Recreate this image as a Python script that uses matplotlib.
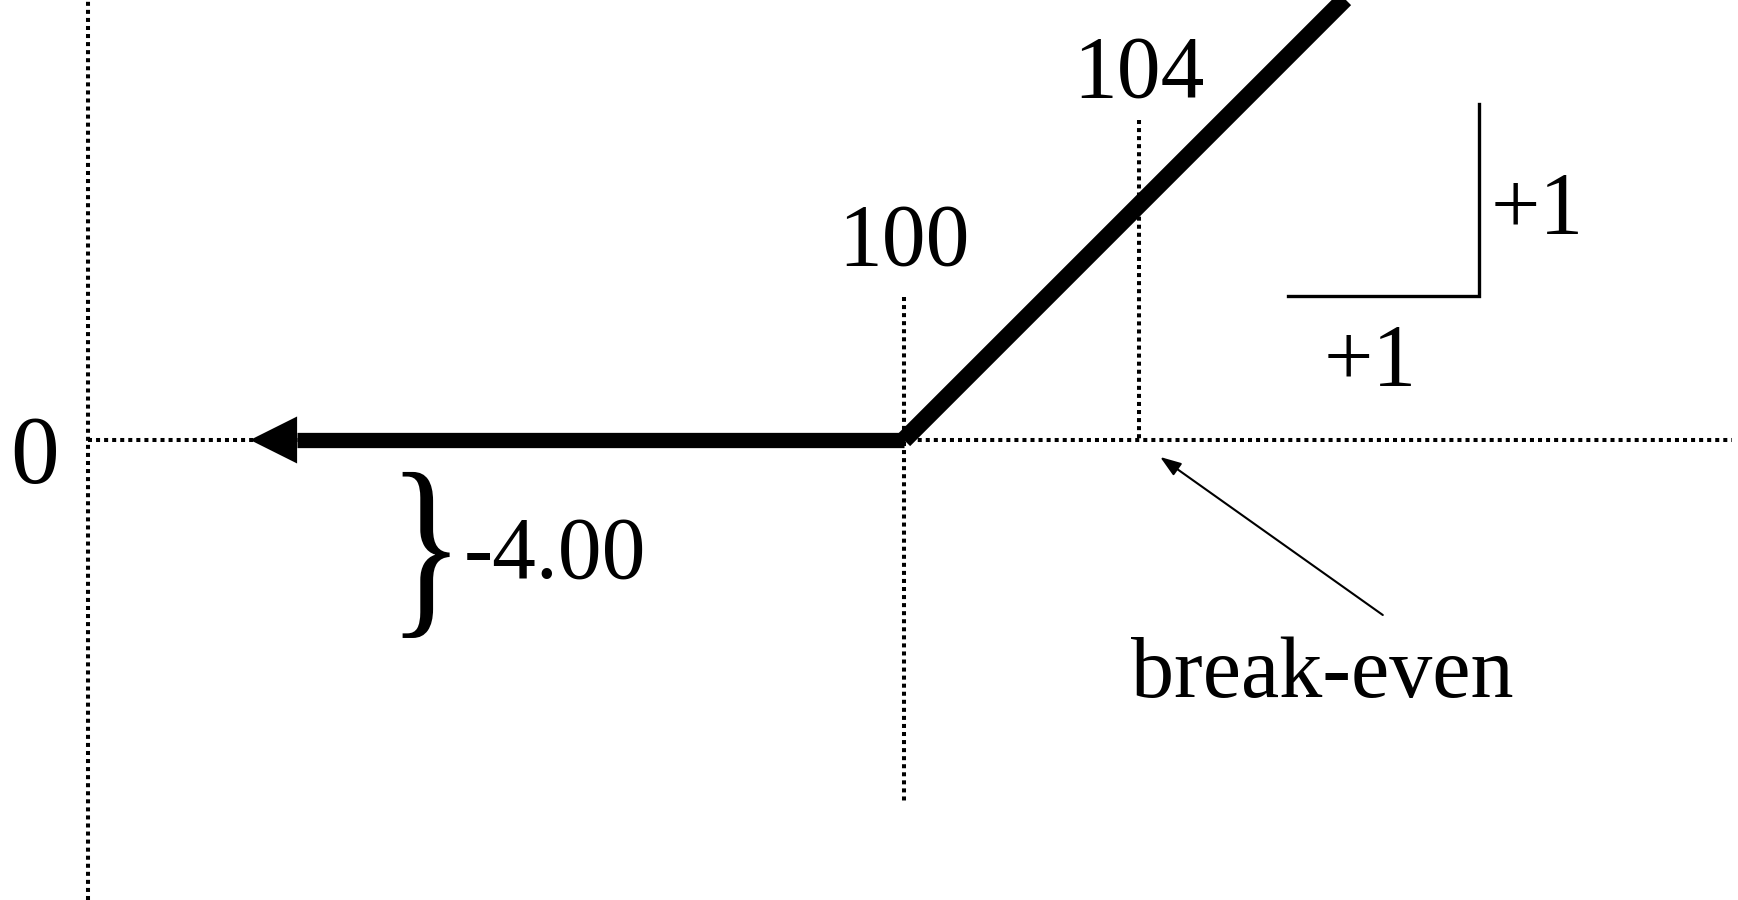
import matplotlib
matplotlib.use("Agg")
import matplotlib.pyplot as plt
from matplotlib.textpath import TextPath
from matplotlib.patches import PathPatch
from matplotlib.font_manager import FontProperties
from matplotlib.transforms import Affine2D

# ---- data (price units / payoff units) ----
strike = 100
breakeven = 104
premium = 4.00
payoff_x = [88.87, 100, 108.0]      # left arrow tip, kink at strike, upper end (clipped)
payoff_y = [0.0, 0.0, 8.0]
axis_x = 86.11                      # vertical (payoff) axis position
zero_line_end = 114.09
strike_guide = [2.434, -6.162]      # vertical extent of guide at strike
be_guide = [5.447, 0.0]             # vertical extent of guide at break-even
slope_run = [106.54, 109.79]        # slope triangle horizontal leg
slope_rise = [2.451, 5.719]         # slope triangle vertical leg
labels_strike = ["100", "104"]
premium_label = "-4.00"
be_label = "break-even"

plt.rcParams['font.family'] = ['Liberation Serif', 'DejaVu Serif']

fig = plt.figure(figsize=(17.38, 9.0), dpi=100)
ax = fig.add_axes([0, 0, 1, 1])
ax.set_xlim(84.613, 114.196)
ax.set_ylim(-7.830, 7.489)
ax.axis('off')

dot = dict(color='black', lw=2.9, linestyle=(0, (1, 1)), zorder=1)
# axes (dotted)
ax.plot([axis_x, axis_x], [-7.830, 7.489], **dot)
ax.plot([axis_x, zero_line_end], [0, 0], **dot)
# guide lines
ax.plot([strike, strike], strike_guide, **dot)
ax.plot([breakeven, breakeven], be_guide, **dot)

# payoff line with arrow head on the left
head_len = 0.80
head_w = 0.80
ax.plot([payoff_x[0] + head_len, payoff_x[1]], payoff_y[:2], color='black',
        lw=11, solid_capstyle='butt', zorder=3)
ax.plot(payoff_x[1:], payoff_y[1:], color='black',
        lw=12.5, solid_capstyle='butt', zorder=3)
ax.arrow(payoff_x[0] + head_len, payoff_y[0], -head_len, 0, width=0.0,
         head_width=head_w, head_length=head_len, length_includes_head=True,
         color='black', lw=0, zorder=4)

# slope triangle
ax.plot([slope_run[0], slope_run[1], slope_run[1]],
        [slope_rise[0], slope_rise[0], slope_rise[1]],
        color='black', lw=2.4, solid_joinstyle='miter', zorder=2)

fs = 63
ax.text(85.21, -0.732, "0", fontsize=70, ha='center', va='baseline')
ax.text(strike, 2.979, labels_strike[0], fontsize=fs, ha='center', va='baseline')
ax.text(breakeven, 5.838, labels_strike[1], fontsize=fs, ha='center', va='baseline')
ax.text(94.06, -2.349, premium_label, fontsize=fs, ha='center', va='baseline')
ax.text(110.77, 3.523, "+1", fontsize=fs, ha='center', va='baseline')
ax.text(107.93, 0.936, "+1", fontsize=fs, ha='center', va='baseline')
ax.text(107.115, -4.374, be_label, fontsize=62, ha='center', va='baseline')

# brace as a scaled glyph path
tp = TextPath((0, 0), "}", size=1, prop=FontProperties(family='Liberation Serif'))
ext = tp.get_extents()
bw, bh = 0.80, 2.826
bcx, bcy = 91.866, -1.957
tr = (Affine2D().translate(-(ext.x0 + ext.width / 2), -(ext.y0 + ext.height / 2))
      .scale(bw / ext.width, bh / ext.height).translate(bcx, bcy))
ax.add_patch(PathPatch(tr.transform_path(tp), facecolor='black', edgecolor='none', zorder=2))

# break-even pointer
ax.annotate("", xy=(104.36, -0.289), xytext=(108.15, -2.979),
            arrowprops=dict(arrowstyle='-|>,head_length=0.85,head_width=0.3',
                            mutation_scale=15, lw=1.5, color='black',
                            shrinkA=0, shrinkB=0))

fig.savefig("out.png", dpi=100)
